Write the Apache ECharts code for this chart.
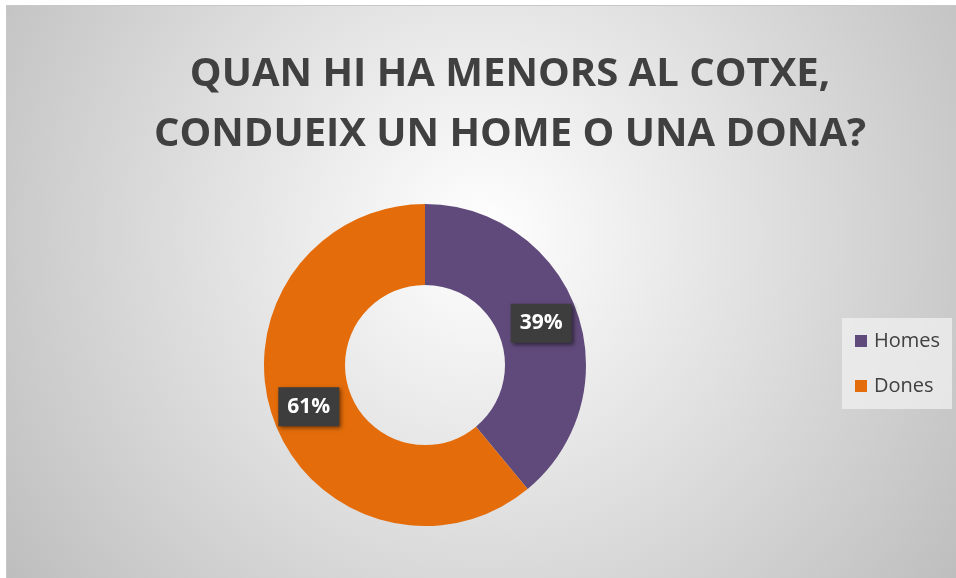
<!DOCTYPE html>
<html>
<head>
<meta charset="utf-8">
<script src="https://cdn.jsdelivr.net/npm/echarts@6/dist/echarts.min.js"></script>
<style>
html,body{margin:0;padding:0;background:#fff;width:956px;height:578px;overflow:hidden;}
#wrap{position:absolute;left:6px;top:5px;width:950px;height:573px;border-top:1px solid #c8c8c8;border-left:1px solid #c8c8c8;}
#chart{width:950px;height:573px;}
</style>
</head>
<body>
<div id="wrap"><div id="chart"></div></div>
<script>
const titleLines = ['QUAN HI HA MENORS AL COTXE,', 'CONDUEIX UN HOME O UNA DONA?'];
const categories = ['Homes', 'Dones'];
const values = [39, 61];
const colors = ['#604A7B', '#E46C0A'];

const chart = echarts.init(document.getElementById('chart'), null, {renderer: 'canvas'});
chart.setOption({
  backgroundColor: {
    type: 'radial', x: 0.5, y: 0.4, r: 1.05,
    colorStops: [{offset: 0, color: '#ffffff'}, {offset: 1, color: '#bcbcbc'}]
  },
  title: {
    text: titleLines.join('\n'),
    left: 498, top: 34, textAlign: 'center',
    textStyle: {fontFamily: 'Open Sans', fontWeight: 'bold', fontSize: 40, lineHeight: 60, color: '#404040'}
  },
  legend: {
    orient: 'vertical',
    left: 835, top: 312,
    data: categories,
    backgroundColor: 'rgba(240,240,240,0.75)',
    padding: [13, 12, 13, 13],
    itemWidth: 12, itemHeight: 12, itemGap: 25,
    icon: 'rect',
    textStyle: {fontFamily: 'Open Sans', fontSize: 20, color: '#404040', padding: [0, 0, 0, 2]}
  },
  series: [{
    type: 'pie',
    center: [418, 359],
    radius: [80, 161],
    startAngle: 90,
    clockwise: true,
    silent: true,
    color: colors,
    data: categories.map((c, i) => ({name: c, value: values[i]})),
    label: {
      show: true,
      position: 'inside',
      formatter: '{d}%',
      fontFamily: 'Open Sans', fontWeight: 'bold', fontSize: 21, color: '#ffffff',
      backgroundColor: '#3d3d3d',
      padding: [10, 9, 8, 9],
      shadowColor: 'rgba(0,0,0,0.5)', shadowBlur: 4, shadowOffsetX: 2, shadowOffsetY: 2
    },
    labelLine: {show: false}
  }]
});
</script>
</body>
</html>
